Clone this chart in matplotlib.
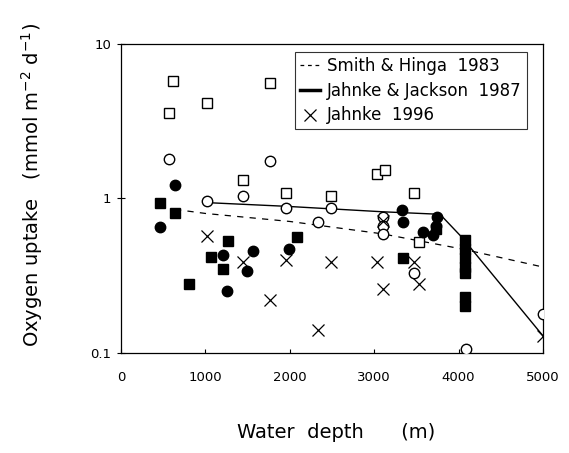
import numpy as np
import matplotlib
matplotlib.use('Agg')
import matplotlib.pyplot as plt
from matplotlib.lines import Line2D

plt.rcParams['font.family'] = ['DejaVu Sans']
plt.rcParams['mathtext.default'] = 'regular'

# Open squares
osq_depth = [616, 569, 1019, 1765, 1445, 1955, 2488, 3033, 3128, 3472, 3531]
osq_val = [5.75, 3.56, 4.14, 5.58, 1.31, 1.08, 1.03, 1.43, 1.54, 1.09, 0.52]

# Open circles
oci_depth = [569, 1765, 1019, 1445, 1955, 2488, 2334, 3104, 3104, 3104, 3472, 4088, 5000]
oci_val = [1.79, 1.74, 0.97, 1.03, 0.87, 0.87, 0.70, 0.76, 0.66, 0.59, 0.33, 0.106, 0.18]

# Filled circles
fci_depth = [640, 462, 1209, 1564, 1493, 1256, 1990, 3329, 3341, 3578, 3697, 3744, 3732]
fci_val = [1.23, 0.65, 0.43, 0.46, 0.34, 0.25, 0.47, 0.84, 0.70, 0.61, 0.58, 0.76, 0.66]

# Filled squares
fsq_depth = [462, 640, 1268, 1066, 1209, 806, 2085, 3341, 3732,
             4080, 4080, 4080, 4080, 4080, 4080, 4080]
fsq_val = [0.93, 0.81, 0.53, 0.42, 0.35, 0.28, 0.56, 0.41, 0.63,
           0.54, 0.47, 0.41, 0.36, 0.33, 0.23, 0.20]

# Jahnke 1996 (crosses)
x_depth = [1019, 1445, 1955, 2488, 1765, 2334, 3033, 3104, 3472, 3531, 5000, 3104]
x_val = [0.57, 0.39, 0.40, 0.39, 0.22, 0.14, 0.39, 0.26, 0.39, 0.28, 0.129, 0.71]

# Smith & Hinga 1983 (dashed)
sh_depth = [640, 1000, 2000, 3100, 4050, 5000]
sh_val = [0.85, 0.80, 0.71, 0.59, 0.47, 0.36]

# Jahnke & Jackson 1987 (solid)
jj_depth = [1020, 1955, 3104, 3780, 4040, 5000]
jj_val = [0.94, 0.89, 0.82, 0.79, 0.56, 0.129]

fig = plt.figure(figsize=(5.69, 4.53), dpi=100)
ax = fig.add_axes([0.2127, 0.2208, 0.7416, 0.6821])

ax.plot(sh_depth, sh_val, color='black', lw=0.9, ls=(0, (5, 5)), zorder=1)
ax.plot(jj_depth, jj_val, color='black', lw=1.0, zorder=1)

ax.plot(osq_depth, osq_val, 's', ms=7.5, mfc='white', mec='black', mew=1.0, zorder=3)
ax.plot(oci_depth, oci_val, 'o', ms=7.5, mfc='white', mec='black', mew=1.0, zorder=3)
ax.plot(fci_depth, fci_val, 'o', ms=7.5, color='black', zorder=3)
ax.plot(fsq_depth, fsq_val, 's', ms=7.5, color='black', zorder=3)
ax.plot(x_depth, x_val, 'x', ms=8, color='black', mew=0.9, zorder=3)

ax.set_yscale('log')
ax.set_xlim(0, 5000)
ax.set_ylim(0.1, 10)
ax.set_xticks([0, 1000, 2000, 3000, 4000, 5000])
ax.set_yticks([0.1, 1, 10])
ax.set_yticklabels(['0.1', '1', '10'])
ax.yaxis.set_minor_locator(matplotlib.ticker.NullLocator())
ax.tick_params(axis='x', direction='in', length=3, labelsize=9.5, pad=13)
ax.tick_params(axis='y', direction='inout', length=6, labelsize=9.5, pad=4)
for s in ax.spines.values():
    s.set_linewidth(0.9)

# axis titles placed in figure coordinates
fig.text(336 / 569, 1 - 432 / 453, 'Water  depth      (m)', fontsize=14,
         ha='center', va='center')
fig.text(32 / 569, 1 - 185 / 453, r'Oxygen uptake   (mmol m$^{-2}$ d$^{-1}$)',
         fontsize=14, rotation=90, ha='center', va='center')

handles = [
    Line2D([], [], color='black', lw=0.9, ls=(0, (3, 3))),
    Line2D([], [], color='black', lw=2.5),
    Line2D([], [], color='black', marker='x', ls='none', ms=8, mew=0.9),
]
labels = ['Smith & Hinga  1983', 'Jahnke & Jackson  1987', 'Jahnke  1996']
leg = ax.legend(handles, labels, loc='upper right', bbox_to_anchor=(0.962, 0.974),
                fontsize=12, frameon=True, fancybox=False, edgecolor='black',
                handlelength=1.2, handletextpad=0.45, borderpad=0.3, labelspacing=0.4,
                borderaxespad=0)
leg.get_frame().set_linewidth(0.8)

plt.savefig('out.png', dpi=100)
